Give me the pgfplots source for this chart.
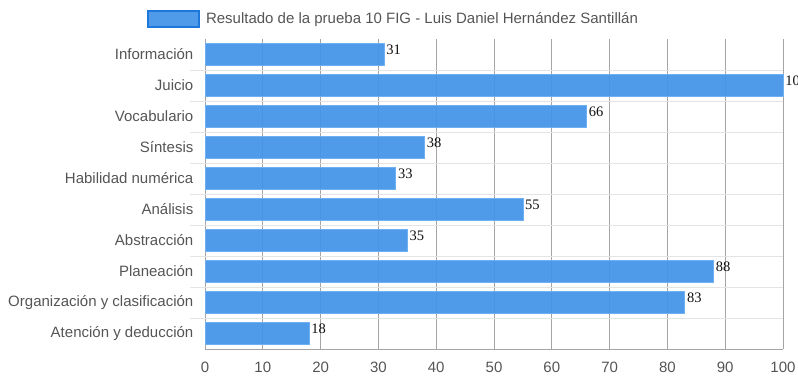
\documentclass[border=0pt]{standalone}
\usepackage{fontspec}
\setmainfont{Liberation Sans}
\newfontfamily\numfont{Liberation Serif}
\usepackage{pgfplots}
\pgfplotsset{compat=1.18}
\definecolor{barblue}{RGB}{68,148,232}
\definecolor{barborder}{RGB}{110,176,242}
\definecolor{legborder}{RGB}{30,120,220}
\definecolor{txtgray}{RGB}{85,85,85}
\definecolor{gridgray}{RGB}{165,165,165}
\definecolor{sepgray}{RGB}{228,228,228}
\begin{document}
\begin{tikzpicture}[x=1pt,y=1pt]
\useasboundingbox (0,0) rectangle (798,385);
\begin{axis}[
  at={(205pt,36pt)}, anchor=south west,
  scale only axis, width=578pt, height=310pt,
  xbar, bar width=22pt,
  xmin=0, xmax=100, ymin=-0.5, ymax=9.5, y dir=reverse,
  clip=false,
  axis lines=left,
  axis line style={-, draw=gridgray, line width=0.8pt},
  xtick={0,10,...,100},
  ytick={0,...,9},
  yticklabels={Información,Juicio,Vocabulario,Síntesis,Habilidad numérica,Análisis,Abstracción,Planeación,Organización y clasificación,Atención y deducción},
  xmajorgrids,
  major grid style={draw=gridgray, line width=0.8pt},
  tick style={draw=none},
  /pgf/number format/assume math mode=true,
  xticklabel style={font=\fontsize{15}{15}\selectfont, text=txtgray, yshift=-7pt},
  yticklabel style={font=\fontsize{15}{15}\selectfont, text=txtgray, xshift=-6pt},
  nodes near coords,
  nodes near coords style={font=\numfont\fontsize{14.5}{14.5}\selectfont, text=black, yshift=5pt, inner xsep=2pt},
  legend style={at={(-0.1003,1.0645)}, anchor=west, draw=none, fill=none, inner sep=0pt, outer sep=0pt,
    nodes={inner sep=0pt}, font=\fontsize{15}{15}\selectfont, text=txtgray},
  legend image code/.code={\draw[fill=barblue, draw=legborder, line width=1.6pt] (0.8pt,-8pt) rectangle (52.2pt,8pt);},
]
\pgfplotsinvokeforeach{0.5,1.5,...,8.5}{\draw[sepgray, line width=1pt] ([xshift=-15pt]axis cs:0,#1) -- (axis cs:100,#1);}
\addplot[fill=barblue, fill opacity=0.94, draw=barborder, line width=0.6pt] coordinates {
  (31,0) (100,1) (66,2) (38,3) (33,4) (55,5) (35,6) (88,7) (83,8) (18,9)};
\addlegendentry{\hspace*{6pt}Resultado de la prueba 10 FIG - Luis Daniel Hernández Santillán}
\end{axis}
\end{tikzpicture}
\end{document}
